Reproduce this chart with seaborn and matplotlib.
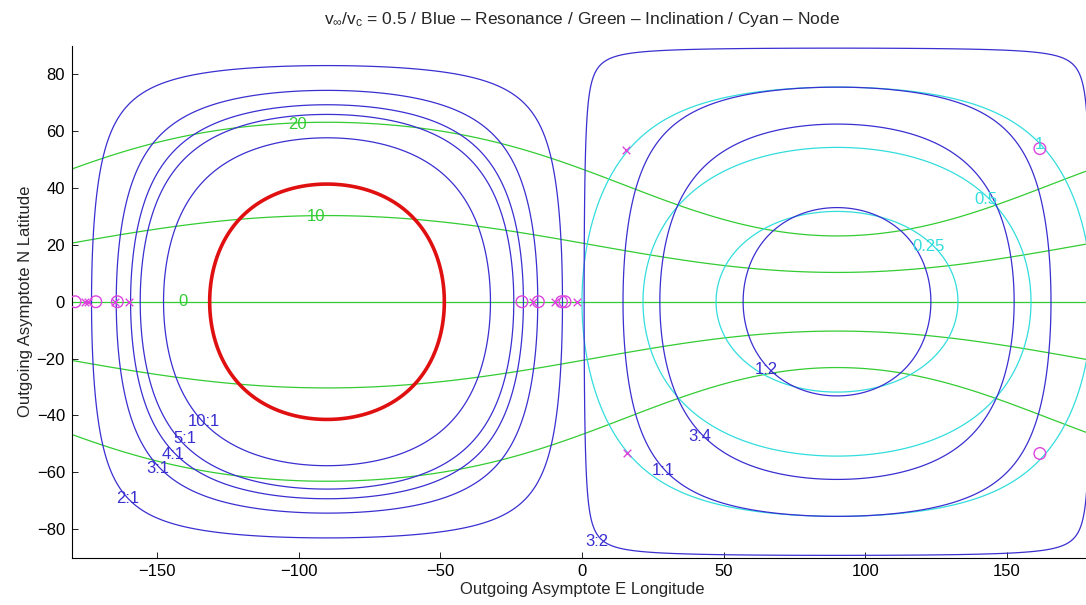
import numpy as np
import matplotlib
matplotlib.use("Agg")
import matplotlib.pyplot as plt
import seaborn as sns
import pandas as pd

# ---------------- data ----------------
v_ratio = 0.5                                   # v_inf / v_c
res_num = [1, 3, 1, 3, 2, 3, 4, 5, 10]          # resonance numerators
res_den = [2, 4, 1, 2, 1, 1, 1, 1, 1]           # resonance denominators
incl_levels = [-20, -10, 0, 10, 20]             # inclination contours (deg)
node_levels = [0.25, 0.5, 1.0]                  # node contours
escape_level = [0.0]                            # escape energy boundary

circ_lon = [-178.9, -171.6, -164.0, -21.2, -15.4, -7.2, -6.0, 161.6, 161.6]
circ_lat = [0, 0, 0, 0, 0, 0, 0, 53.9, -53.4]
cross_lon = [-175.3, -174.2, -165.0, -159.8, -17.4, -9.5, -1.9, 15.5, 15.8]
cross_lat = [0, 0, 0, 0, 0, 0, 0, 53.3, -53.3]

res_labels = [f"{n}:{d}" for n, d in zip(res_num, res_den)]
incl_labels = ["20", "10", "0"]
node_labels = ["0.25", "0.5", "1"]

# label placement (layout)
res_label_pos = [(65.2, -24.0), (41.6, -47.4), (28.6, -59.3), (5.3, -84.4),
                 (-160.5, -69.2), (-149.6, -58.7), (-144.3, -53.7),
                 (-140.0, -48.2), (-133.6, -42.3)]
incl_label_pos = [(-100.6, 62.3), (-93.9, 29.9), (-140.8, 0.0)]
node_label_pos = [(122.4, 19.4), (142.6, 36.0), (161.6, 55.5)]

# ---------------- style ----------------
sns.set_theme(style="ticks")
plt.rcParams["font.family"] = ["Liberation Sans", "DejaVu Sans"]
plt.rcParams["mathtext.fontset"] = "custom"
plt.rcParams["mathtext.rm"] = "Liberation Sans"
plt.rcParams["mathtext.it"] = "Liberation Sans"
plt.rcParams["mathtext.default"] = "rm"
plt.rcParams["contour.negative_linestyle"] = "solid"

BLUE = "#3a2fd0"
GREEN = "#33cc33"
CYAN = "#33dddd"
MAG = "#dd44dd"
RED = "#e01010"
FS = 12

# ---------------- fields ----------------
lon = np.linspace(-180, 180, 721)
lat = np.linspace(-90, 90, 360)
LON, LAT = np.meshgrid(np.radians(lon), np.radians(lat))
k = v_ratio
c = -np.cos(LAT) * np.sin(LON)
v2 = 1 + k**2 + 2 * k * c
inv_a = 2 - v2
with np.errstate(invalid="ignore", divide="ignore"):
    period = np.where(inv_a > 0, np.abs(inv_a) ** -1.5, np.nan)
energy = v2 / 2 - 1
incl = np.degrees(np.arctan2(k * np.sin(LAT), 1 + k * c))
p = (k * np.sin(LAT)) ** 2 + (1 + k * c) ** 2
with np.errstate(invalid="ignore", divide="ignore"):
    node = np.where(p < 1.9, p / (2 - p), np.nan)

res_levels = [n / d for n, d in zip(res_num, res_den)]

# ---------------- plot ----------------
fig = plt.figure(figsize=(10.86, 6.05), dpi=100)
ax = fig.add_axes([72 / 1086, 47.5 / 605, 1020 / 1086, 511.5 / 605])

ax.contour(lon, lat, incl, levels=incl_levels, colors=GREEN, linewidths=0.9,
           linestyles="solid")
ax.contour(lon, lat, node, levels=node_levels, colors=CYAN, linewidths=0.9)
ax.contour(lon, lat, period, levels=res_levels, colors=BLUE, linewidths=0.9)
ax.contour(lon, lat, energy, levels=escape_level, colors=RED, linewidths=2.6)

df_c = pd.DataFrame({"lon": circ_lon, "lat": circ_lat})
df_x = pd.DataFrame({"lon": cross_lon, "lat": cross_lat})
sns.scatterplot(data=df_c, x="lon", y="lat", ax=ax, marker="o", s=70,
                facecolors="none", edgecolor=MAG, linewidth=1.0, zorder=5)
sns.scatterplot(data=df_x, x="lon", y="lat", ax=ax, marker="x", s=30,
                color=MAG, linewidth=1.0, zorder=5)

for t, (x, y) in zip(res_labels, res_label_pos):
    ax.text(x, y, t, color=BLUE, fontsize=FS, ha="center", va="center", zorder=6)
for t, (x, y) in zip(incl_labels, incl_label_pos):
    ax.text(x, y, t, color=GREEN, fontsize=FS, ha="center", va="center", zorder=6)
for t, (x, y) in zip(node_labels, node_label_pos):
    ax.text(x, y, t, color=CYAN, fontsize=FS, ha="center", va="center", zorder=6)

ax.set_xlim(-180, 180)
ax.set_ylim(-90, 90)
ax.set_xticks([-150, -100, -50, 0, 50, 100, 150])
ax.set_yticks([-80, -60, -40, -20, 0, 20, 40, 60, 80])
ax.tick_params(direction="in", length=4, width=0.6, labelsize=FS, colors="black",
               pad=5)
for s in ["top", "right"]:
    ax.spines[s].set_visible(False)
for s in ["left", "bottom"]:
    ax.spines[s].set_linewidth(0.8)
    ax.spines[s].set_color("black")
ax.set_xlabel("Outgoing Asymptote E Longitude", fontsize=FS, labelpad=2)
ax.set_ylabel("Outgoing Asymptote N Latitude", fontsize=FS, labelpad=3)
ax.set_title(r"v$_{\infty}$/v$_{\rm c}$ = 0.5 / Blue – Resonance / Green – Inclination / Cyan – Node",
             fontsize=12.5, pad=16)

fig.savefig("out.png", dpi=100, facecolor="white")
